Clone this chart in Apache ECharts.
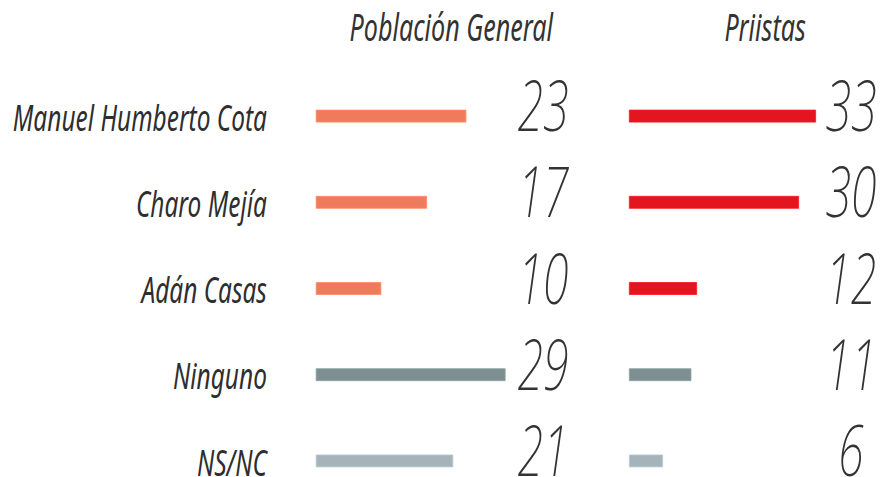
<!DOCTYPE html>
<html lang="es">
<head>
    <meta charset="UTF-8">
    <title>Población General / Priistas</title>
    <script src="https://cdn.jsdelivr.net/npm/echarts@6/dist/echarts.min.js"></script>
    <style>
        html, body { margin: 0; padding: 0; background: #fff; overflow: hidden; }
        /* la letra del original es muy estrecha: se dibuja ancho y se comprime en horizontal */
        #chart { width: 1344px; height: 477px; transform: scaleX(0.6607); transform-origin: 0 0; }
    </style>
</head>
<body>
<div id="chart"></div>
<script>
    // datos
    var candidatos = ['Manuel Humberto Cota', 'Charo Mejía', 'Adán Casas', 'Ninguno', 'NS/NC'];
    var poblacion = [23, 17, 10, 29, 21];
    var priistas = [33, 30, 12, 11, 6];
    var titulos = ['Población General', 'Priistas'];

    var colorPob = ['#EF7B5C', '#EF7B5C', '#EF7B5C', '#7D8F90', '#A4B4BA'];
    var colorPri = ['#E3161F', '#E3161F', '#E3161F', '#7D8F90', '#A4B4BA'];
    var fuente = '"Noto Sans", sans-serif';

    function barras(valores, colores, idx) {
        return {
            type: 'bar',
            xAxisIndex: idx,
            yAxisIndex: idx * 2,
            barWidth: 13,
            silent: true,
            data: valores.map(function (v, i) {
                return {
                    value: v,
                    itemStyle: {
                        color: colores[i],
                        borderColor: echarts.color.lift(colores[i], -0.15),
                        borderWidth: 1
                    }
                };
            })
        };
    }

    // los numeros van un poco por encima de la barra
    function ejeNumeros(valores, grid, margen) {
        return {
            type: 'category', gridIndex: grid, position: 'right', inverse: true,
            data: candidatos,
            axisLine: {show: false}, axisTick: {show: false},
            axisLabel: {
                interval: 0, margin: margen, align: 'center',
                verticalAlign: 'bottom', lineHeight: 24,
                fontFamily: fuente, fontStyle: 'italic', fontWeight: 200, fontSize: 70,
                color: '#333',
                formatter: function (v, i) { return valores[i]; }
            }
        };
    }

    var tituloEstilo = {fontFamily: fuente, fontStyle: 'italic', fontWeight: 'normal', fontSize: 38, color: '#333'};

    var chart = echarts.init(document.getElementById('chart'), null, {renderer: 'svg'});
    chart.setOption({
        backgroundColor: '#fff',
        animation: false,
        title: [
            {text: titulos[0], left: 678, top: 2, textAlign: 'center', textStyle: tituloEstilo},
            {text: titulos[1], left: 1153, top: 2, textAlign: 'center', textStyle: tituloEstilo}
        ],
        grid: [
            {left: 478, top: 73, width: 297, height: 431, outerBoundsMode: 'none', containLabel: false},
            {left: 952, top: 73, width: 283, height: 431, outerBoundsMode: 'none', containLabel: false}
        ],
        xAxis: [
            {type: 'value', gridIndex: 0, min: 0, max: 30, show: false},
            {type: 'value', gridIndex: 1, min: 0, max: 33, show: false}
        ],
        yAxis: [
            {
                type: 'category', gridIndex: 0, inverse: true, data: candidatos,
                axisLine: {show: false}, axisTick: {show: false},
                axisLabel: {
                    interval: 0, margin: 74, fontFamily: fuente, fontStyle: 'italic',
                    fontSize: 37, lineHeight: 30, color: '#2e2e2e'
                }
            },
            ejeNumeros(poblacion, 0, 47),
            {
                type: 'category', gridIndex: 1, inverse: true, data: candidatos,
                axisLine: {show: false}, axisTick: {show: false}, axisLabel: {show: false}
            },
            ejeNumeros(priistas, 1, 53)
        ],
        series: [
            barras(poblacion, colorPob, 0),
            barras(priistas, colorPri, 1)
        ]
    });
</script>
</body>
</html>
